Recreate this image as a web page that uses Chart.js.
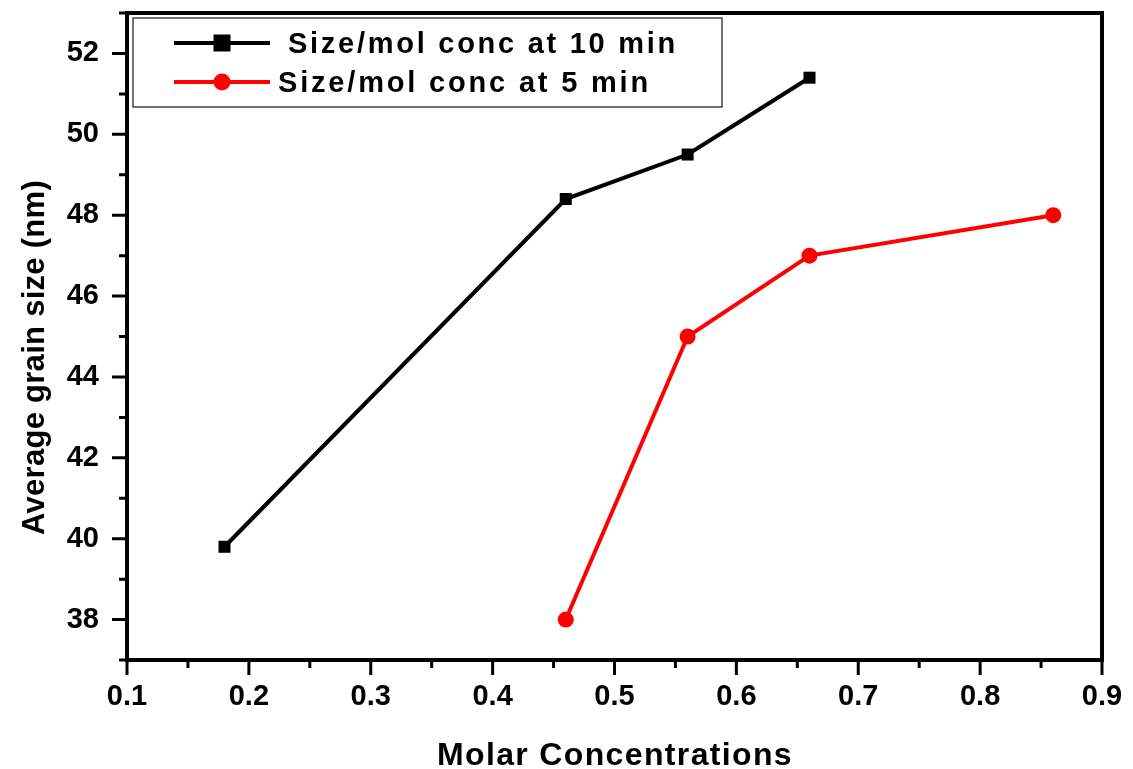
<!DOCTYPE html>
<html>
<head>
<meta charset="utf-8">
<script src="https://cdn.jsdelivr.net/npm/chart.js@4"></script>
<style>
  html, body { margin: 0; padding: 0; background: #fff; }
  #wrap { width: 1133px; height: 769px; position: relative; }
</style>
</head>
<body>
<div id="wrap"><canvas id="chart"></canvas></div>
<script>
// ── Datos ────────────────────────────────────────────────────────────────────
const conc10 = [0.18, 0.46, 0.56, 0.66];
const size10 = [39.8, 48.4, 49.5, 51.4];
const conc5  = [0.46, 0.56, 0.66, 0.86];
const size5  = [38.0, 45.0, 47.0, 48.0];

const xTicks      = [0.1, 0.2, 0.3, 0.4, 0.5, 0.6, 0.7, 0.8, 0.9];
const xMinorTicks = [0.15, 0.25, 0.35, 0.45, 0.55, 0.65, 0.75, 0.85];
const yTicks      = [38, 40, 42, 44, 46, 48, 50, 52];
const yMinorTicks = [37, 39, 41, 43, 45, 47, 49, 51, 53];

const xTitle = 'Molar Concentrations';
const yTitle = 'Average grain size (nm)';
const FONT = '"Liberation Sans", Arial, sans-serif';

const toPoints = (xs, ys) => xs.map((x, i) => ({ x, y: ys[i] }));

// texto con espaciado ajustado a un ancho dado
function spacedText(ctx, text, x, y, width) {
  ctx.letterSpacing = '0px';
  const w = ctx.measureText(text).width;
  const sp = Math.max(0, (width - w) / text.length);
  ctx.letterSpacing = sp + 'px';
  ctx.textAlign = 'left';
  ctx.fillText(text, x, y);
  ctx.letterSpacing = '0px';
}

// sin relleno extra para que el área del gráfico quede fija
function noPad(s) {
  s.paddingLeft = s.paddingRight = s.paddingTop = s.paddingBottom = 0;
}

// ── Marco, ticks, títulos y leyenda ──────────────────────────────────────────
const framePlugin = {
  id: 'frame',
  afterDraw(chart) {
    const { ctx, chartArea: a, scales: { x, y } } = chart;
    ctx.save();
    ctx.strokeStyle = '#000';
    ctx.fillStyle = '#000';

    // ticks hacia fuera
    ctx.lineWidth = 3;
    ctx.beginPath();
    xTicks.forEach(v => { const p = x.getPixelForValue(v); ctx.moveTo(p, a.bottom); ctx.lineTo(p, a.bottom + 15); });
    xMinorTicks.forEach(v => { const p = x.getPixelForValue(v); ctx.moveTo(p, a.bottom); ctx.lineTo(p, a.bottom + 8); });
    yTicks.forEach(v => { const p = y.getPixelForValue(v); ctx.moveTo(a.left, p); ctx.lineTo(a.left - 15, p); });
    yMinorTicks.forEach(v => { const p = y.getPixelForValue(v); ctx.moveTo(a.left, p); ctx.lineTo(a.left - 8, p); });
    ctx.stroke();

    // marco
    ctx.lineWidth = 4;
    ctx.strokeRect(a.left, a.top, a.right - a.left, a.bottom - a.top);

    // títulos de ejes
    ctx.font = 'bold 32px ' + FONT;
    ctx.textBaseline = 'alphabetic';
    spacedText(ctx, xTitle, 437, 765, 356);
    ctx.save();
    ctx.translate(44, 535);
    ctx.rotate(-Math.PI / 2);
    ctx.font = 'bold 31px ' + FONT;
    spacedText(ctx, yTitle, 0, 0, 355);
    ctx.restore();

    // leyenda
    ctx.lineWidth = 1.5;
    ctx.strokeStyle = '#444';
    ctx.fillStyle = '#fff';
    ctx.fillRect(133, 18, 589, 89);
    ctx.strokeRect(133, 18, 589, 89);
    const rows = [
      { ds: chart.data.datasets[0], ly: 43, tx: 288, ty: 53, tw: 390 },
      { ds: chart.data.datasets[1], ly: 82, tx: 278, ty: 92, tw: 373 },
    ];
    ctx.font = 'bold 29px ' + FONT;
    rows.forEach(({ ds, ly, tx, ty, tw }) => {
      ctx.strokeStyle = ds.borderColor;
      ctx.fillStyle = ds.backgroundColor;
      ctx.lineWidth = 4;
      ctx.beginPath();
      ctx.moveTo(174, ly);
      ctx.lineTo(270, ly);
      ctx.stroke();
      if (ds.pointStyle === 'rect') {
        ctx.fillRect(222 - 8.5, ly - 8.5, 17, 17);
      } else {
        ctx.beginPath();
        ctx.arc(222, ly, 8.5, 0, Math.PI * 2);
        ctx.fill();
      }
      ctx.fillStyle = '#000';
      spacedText(ctx, ds.label, tx, ty, tw);
    });
    ctx.restore();
  },
};

// ── Gráfico ──────────────────────────────────────────────────────────────────
new Chart(document.getElementById('chart').getContext('2d'), {
  type: 'line',
  plugins: [framePlugin],
  data: {
    datasets: [
      {
        label: 'Size/mol conc at 10 min',
        data: toPoints(conc10, size10),
        borderColor: '#000', backgroundColor: '#000',
        borderWidth: 4, pointStyle: 'rect', pointRadius: 8.5,
        pointBorderWidth: 0, tension: 0,
      },
      {
        label: 'Size/mol conc at 5 min',
        data: toPoints(conc5, size5),
        borderColor: '#ff0000', backgroundColor: '#ff0000',
        borderWidth: 4, pointStyle: 'circle', pointRadius: 8,
        pointBorderWidth: 0, tension: 0,
      },
    ],
  },
  options: {
    responsive: true, maintainAspectRatio: false,
    animation: false,
    layout: { padding: { top: 13, right: 31, left: 0, bottom: 0 } },
    plugins: { legend: { display: false }, tooltip: { enabled: false } },
    scales: {
      x: {
        type: 'linear', min: 0.1, max: 0.9,
        afterBuildTicks: s => { s.ticks = xTicks.map(v => ({ value: v })); },
        afterFit: s => { s.height = 109; noPad(s); },
        grid: { display: false, drawTicks: false },
        border: { display: false },
        ticks: {
          color: '#000', padding: 20,
          font: { family: FONT, size: 29, weight: 'bold' },
          callback: v => v.toFixed(1),
        },
      },
      y: {
        type: 'linear', min: 37, max: 53,
        afterBuildTicks: s => { s.ticks = yTicks.map(v => ({ value: v })); },
        afterFit: s => { s.width = 127; noPad(s); },
        grid: { display: false, drawTicks: false },
        border: { display: false },
        ticks: {
          color: '#000', padding: 28,
          font: { family: FONT, size: 29, weight: 'bold' },
          callback: v => String(v),
        },
      },
    },
  },
});
</script>
</body>
</html>
